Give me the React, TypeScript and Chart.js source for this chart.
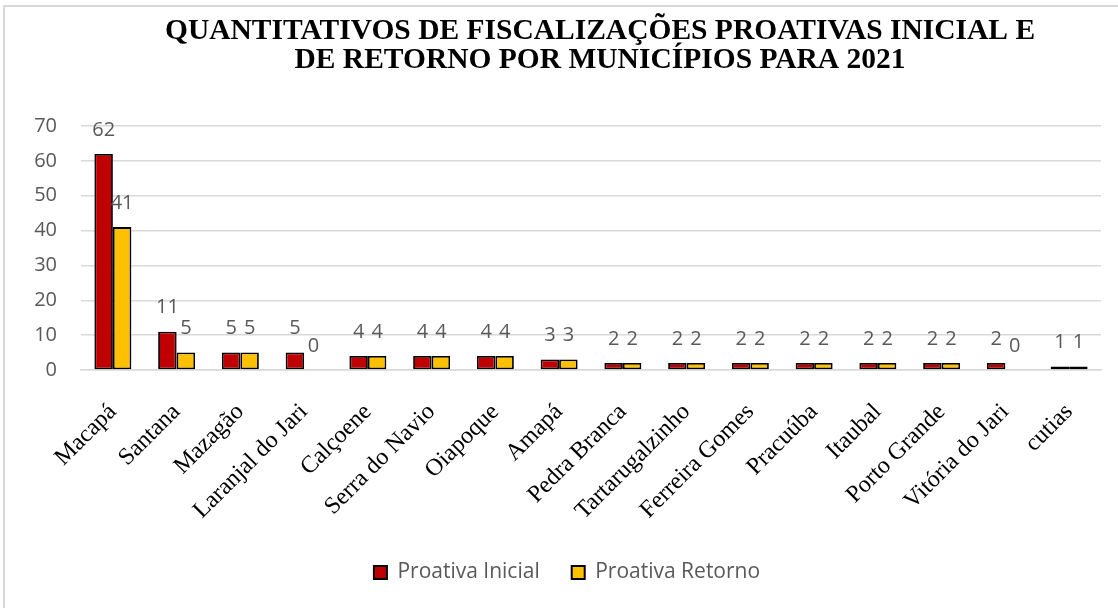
import React, { useEffect, useRef } from "react";
import { Chart, registerables } from "chart.js";

Chart.register(...registerables);

const categories = [
  "Macapá",
  "Santana",
  "Mazagão",
  "Laranjal do Jari",
  "Calçoene",
  "Serra do Navio",
  "Oiapoque",
  "Amapá",
  "Pedra Branca",
  "Tartarugalzinho",
  "Ferreira Gomes",
  "Pracuúba",
  "Itaubal",
  "Porto Grande",
  "Vitória do Jari",
  "cutias",
];
const proativaInicial = [62, 11, 5, 5, 4, 4, 4, 3, 2, 2, 2, 2, 2, 2, 2, 1];
const proativaRetorno = [41, 5, 5, 0, 4, 4, 4, 3, 2, 2, 2, 2, 2, 2, 0, 1];
const seriesNames = ["Proativa Inicial", "Proativa Retorno"];
const titleLines = [
  "QUANTITATIVOS DE FISCALIZAÇÕES PROATIVAS INICIAL E",
  "DE RETORNO POR MUNICÍPIOS PARA 2021",
];
const yMin = 0;
const yMax = 70;
const yStep = 10;

const SANS = "'Open Sans', 'DejaVu Sans', sans-serif";
const SERIF = "'Liberation Serif', 'DejaVu Serif', serif";

const titlePlugin = {
  id: "customTitle",
  afterDraw(chart: any) {
    const ctx = chart.ctx;
    ctx.save();
    ctx.fillStyle = "#000000";
    ctx.font = `bold 29.5px ${SERIF}`;
    ctx.textAlign = "center";
    ctx.textBaseline = "alphabetic";
    titleLines.forEach((line, i) => {
      ctx.fillText(line, 600, 39 + i * 29);
    });
    ctx.restore();
  },
};

const valueLabelPlugin = {
  id: "valueLabels",
  afterDatasetsDraw(chart: any) {
    const ctx = chart.ctx;
    ctx.save();
    ctx.fillStyle = "#595959";
    ctx.font = `20px ${SANS}`;
    ctx.textAlign = "center";
    ctx.textBaseline = "middle";
    chart.data.datasets.forEach((ds: any, di: number) => {
      const meta = chart.getDatasetMeta(di);
      meta.data.forEach((bar: any, i: number) => {
        ctx.fillText(String(ds.data[i]), bar.x, bar.y - 24);
      });
    });
    ctx.restore();
  },
};

export default function App() {
  const canvasRef = useRef<HTMLCanvasElement | null>(null);

  useEffect(() => {
    document.body.style.margin = "0";
    const canvas = canvasRef.current;
    if (!canvas) return;
    const chart = new Chart(canvas, {
      type: "bar",
      data: {
        labels: categories,
        datasets: [
          {
            label: seriesNames[0],
            data: proativaInicial,
            backgroundColor: "#C00000",
            borderColor: "#000000",
            borderWidth: 1.8,
            borderSkipped: false,
            categoryPercentage: 0.58,
            barPercentage: 1.0,
          },
          {
            label: seriesNames[1],
            data: proativaRetorno,
            backgroundColor: "#FFC000",
            borderColor: "#000000",
            borderWidth: 1.8,
            borderSkipped: false,
            categoryPercentage: 0.58,
            barPercentage: 1.0,
          },
        ],
      },
      options: {
        responsive: false,
        animation: false,
        devicePixelRatio: 1,
        layout: { padding: { top: 126, left: 33, right: 17, bottom: 15 } },
        plugins: {
          title: { display: false },
          tooltip: { enabled: false },
          legend: {
            display: true,
            position: "bottom",
            labels: {
              font: { family: SANS, size: 21 },
              color: "#595959",
              boxWidth: 13,
              boxHeight: 13,
              padding: 32,
              generateLabels: (chart: any) =>
                chart.data.datasets.map((ds: any, i: number) => ({
                  text: ds.label,
                  fillStyle: ds.backgroundColor,
                  strokeStyle: "#000000",
                  fontColor: "#595959",
                  lineWidth: 2,
                  datasetIndex: i,
                  hidden: false,
                })),
            },
          },
        },
        scales: {
          x: {
            grid: { display: false, drawTicks: false },
            border: { display: true, color: "#d9d9d9", width: 1.5 },
            ticks: {
              font: { family: SERIF, size: 24 },
              color: "#000000",
              maxRotation: 45,
              minRotation: 45,
              autoSkip: false,
              padding: 28,
            },
            afterFit: (scale: any) => {
              scale.height = 160;
              scale.paddingLeft = 0;
              scale.paddingRight = 0;
            },
          },
          y: {
            min: yMin,
            max: yMax,
            grid: { color: "#d9d9d9", lineWidth: 1.5, drawTicks: false },
            border: { display: false },
            ticks: {
              stepSize: yStep,
              font: { family: SANS, size: 20 },
              color: "#595959",
              padding: 24,
            },
            afterFit: (scale: any) => {
              scale.width = 48;
            },
          },
        },
      },
      plugins: [titlePlugin, valueLabelPlugin],
    });
    return () => chart.destroy();
  }, []);

  return (
    <div
      style={{
        position: "absolute",
        left: 0,
        top: 0,
        width: 1118,
        height: 608,
        background: "#ffffff",
        overflow: "hidden",
      }}
    >
      <div
        style={{
          position: "absolute",
          left: 3,
          top: 5,
          width: 1130,
          height: 620,
          border: "2px solid #d9d9d9",
          boxSizing: "border-box",
        }}
      />
      <canvas
        ref={canvasRef}
        width={1118}
        height={608}
        style={{ position: "absolute", left: 0, top: 0, width: 1118, height: 608 }}
      />
    </div>
  );
}
